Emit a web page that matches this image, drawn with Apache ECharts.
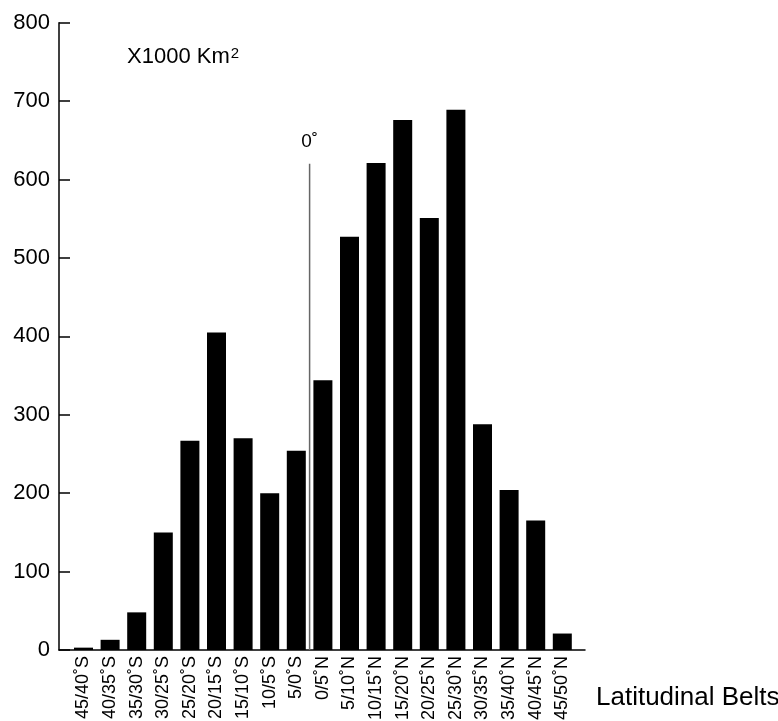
<!DOCTYPE html>
<html>
<head>
<meta charset="utf-8">
<script src="https://cdn.jsdelivr.net/npm/echarts@6/dist/echarts.min.js"></script>
<style>html,body{margin:0;padding:0;background:#fff}#c{width:778px;height:721px}</style>
</head>
<body>
<div id="c"></div>
<script>
const categories = ['45/40˚S','40/35˚S','35/30˚S','30/25˚S','25/20˚S','20/15˚S','15/10˚S','10/5˚S','5/0˚S',
  '0/5˚N','5/10˚N','10/15˚N','15/20˚N','20/25˚N','25/30˚N','30/35˚N','35/40˚N','40/45˚N','45/50˚N'];
const areaValues = [3, 13, 48, 150, 267, 405, 270, 200, 254, 344, 527, 621, 676, 551, 689, 288, 204, 165, 21];
const yTicks = {min: 0, max: 800, interval: 100};
const equatorPos = 8.5;      // boundary between 5/0S and 0/5N (category index units)
const equatorTop = 620;      // top of the equator line, in axis units
const equatorLabel = '0˚';

const FONT = 'Liberation Sans, Arial, Helvetica, sans-serif';
const chart = echarts.init(document.getElementById('c'), null, {renderer: 'canvas'});
const gridTop = 22.7, gridBottom = 71;
chart.setOption({
  backgroundColor: '#fff',
  animation: false,
  textStyle: {fontFamily: FONT, color: '#000'},
  title: [
    {text: '{a|X1000 Km}{s|2}', left: 122, top: 41,
     textStyle: {fontWeight: 'normal', rich: {
       a: {fontSize: 22, fontWeight: 'normal', fontFamily: FONT, color: '#000'},
       s: {fontSize: 15, fontWeight: 'normal', fontFamily: FONT, color: '#000', verticalAlign: 'top', padding: [0,0,7,1]}}}},
    {text: 'Latitudinal Belts', left: 591, top: 680,
     textStyle: {fontSize: 26, fontWeight: 'normal', fontFamily: FONT, color: '#000'}}
  ],
  grid: [
    {left: 59, right: 193, top: gridTop, bottom: gridBottom, containLabel: false, outerBoundsMode: 'none'},
    {left: 70.2, right: 202.4, top: gridTop, bottom: gridBottom, containLabel: false, outerBoundsMode: 'none'}
  ],
  xAxis: [
    {gridIndex: 0, type: 'value', min: 0, max: 1, axisLine: {show: true, onZero: false, lineStyle: {color: '#000', width: 1.5}},
     axisTick: {show: false}, axisLabel: {show: false}, splitLine: {show: false}},
    {gridIndex: 1, type: 'category', data: categories, axisLine: {show: false}, axisTick: {show: false},
     axisLabel: {rotate: 90, fontSize: 18, color: '#000', fontFamily: FONT, margin: 6, interval: 0}},
    {gridIndex: 1, type: 'value', min: -0.5, max: 18.5, show: false}
  ],
  yAxis: [
    {gridIndex: 0, type: 'value', min: yTicks.min, max: yTicks.max, interval: yTicks.interval,
     axisLine: {show: true, lineStyle: {color: '#000', width: 1.5}},
     axisTick: {show: true, inside: true, length: 11, lineStyle: {color: '#000', width: 1.5}},
     axisLabel: {fontSize: 22, color: '#000', fontFamily: FONT, margin: 9},
     splitLine: {show: false}},
    {gridIndex: 1, type: 'value', min: yTicks.min, max: yTicks.max, show: false}
  ],
  series: [
    {type: 'bar', xAxisIndex: 1, yAxisIndex: 1, data: areaValues, barWidth: 19,
     itemStyle: {color: '#000'}},
    {type: 'line', xAxisIndex: 2, yAxisIndex: 1, symbol: 'circle', symbolSize: 0, showSymbol: true,
     lineStyle: {color: '#666', width: 1.5},
     data: [[equatorPos, 0], {value: [equatorPos, equatorTop],
       label: {show: true, formatter: equatorLabel, position: 'top', distance: 13, fontSize: 19, color: '#000', fontFamily: FONT}}]}
  ]
});
</script>
</body>
</html>
